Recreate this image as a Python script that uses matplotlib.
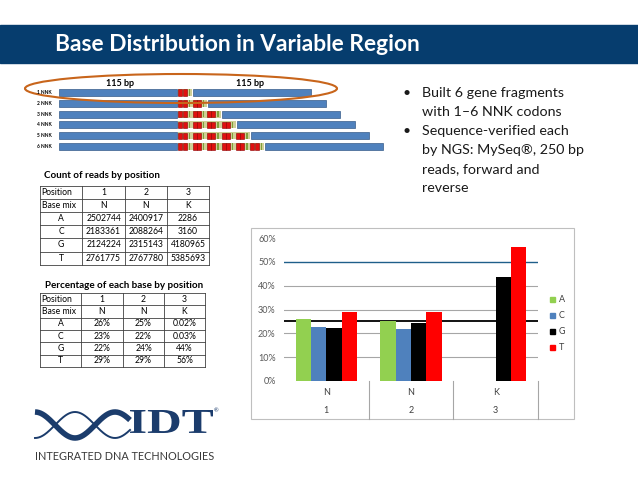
import matplotlib
matplotlib.use('agg')
import numpy as np
import matplotlib.pyplot as plt
from matplotlib.patches import Rectangle, Ellipse, PathPatch
from matplotlib.textpath import TextPath
from matplotlib.font_manager import FontProperties
from matplotlib.transforms import Affine2D

plt.rcParams['font.family'] = ['Lato', 'DejaVu Sans']

# data
bases = ['A', 'C', 'G', 'T']
positions = ['1', '2', '3']
base_mix = ['N', 'N', 'K']
counts_A = [2502744, 2400917, 2286]
counts_C = [2183361, 2088264, 3160]
counts_G = [2124224, 2315143, 4180965]
counts_T = [2761775, 2767780, 5385693]
pct_A = ['26%', '25%', '0.02%']
pct_C = ['23%', '22%', '0.03%']
pct_G = ['22%', '24%', '44%']
pct_T = ['29%', '29%', '56%']
nnk_counts = [1, 2, 3, 4, 5, 6]
bar_colors = ['#92D050', '#4F81BD', '#000000', '#FF0000']
bullet_lines = [('•', 'Built 6 gene fragments'), ('', 'with 1–6 NNK codons'),
                ('•', 'Sequence-verified each'), ('', 'by NGS: MySeq®, 250 bp'),
                ('', 'reads, forward and'), ('', 'reverse')]

fig = plt.figure(figsize=(6.38, 4.79), dpi=100)
bg = fig.add_axes([0, 0, 1, 1])
bg.set_xlim(0, 638)
bg.set_ylim(479, 0)
bg.axis('off')

# header band
bg.add_patch(Rectangle((0, 25), 638, 38, color='#063D6E'))
bg.text(55, 44, 'Base Distribution in Variable Region', color='white',
        fontsize=16.4, fontweight='bold', va='center')

# gene fragments with NNK codons
for i, n in enumerate(nnk_counts):
    y = 92.5 + i * 10.8
    bg.add_patch(Rectangle((59, y - 3.5), 118, 7, fc='#4F81BD', ec='#385D8A', lw=0.5))
    for k in range(n):
        x0 = 178 + k * 14.4
        bg.add_patch(Rectangle((x0, y - 3.5), 14.4, 7, fc='#CFCF96', lw=0))
        for dx in (0.3, 4.5):
            bg.add_patch(Rectangle((x0 + dx, y - 3.2), 4, 6.4, fc='#E01010',
                                   ec='#8B0000', lw=0.4))
        bg.add_patch(Rectangle((x0 + 10.6, y - 3.2), 1.4, 6.4, fc='#7FA03A', lw=0))
    bg.add_patch(Rectangle((178 + n * 14.4 + 1, y - 3.5), 118, 7,
                           fc='#4F81BD', ec='#385D8A', lw=0.5))
    bg.text(37, y, f'{n} NNK', fontsize=3.5, fontweight='bold', va='center')

bg.add_patch(Ellipse((181, 88.5), 312, 29, fill=False, ec='#C8651B', lw=1.5))
bg.text(120, 83, '115 bp', fontsize=6.5, fontweight='bold', ha='center', va='center')
bg.text(250, 83, '115 bp', fontsize=6.5, fontweight='bold', ha='center', va='center')


def draw_table(cols, top, rh, rows, fs):
    nrow = len(rows)
    for r in range(nrow + 1):
        bg.plot([cols[0], cols[-1]], [top + r * rh] * 2, color='#404040', lw=0.6)
    for c in cols:
        bg.plot([c, c], [top, top + nrow * rh], color='#404040', lw=0.6)
    for r, row in enumerate(rows):
        yc = top + (r + 0.5) * rh
        for c, txt in enumerate(row):
            if c == 0 and r < 2:
                bg.text(cols[0] + 1.5, yc, txt, fontsize=fs, va='center', ha='left')
            else:
                bg.text((cols[c] + cols[c + 1]) / 2, yc, txt, fontsize=fs,
                        va='center', ha='center')


rows1 = [['Position'] + positions, ['Base mix'] + base_mix]
for b, cnt in zip(bases, [counts_A, counts_C, counts_G, counts_T]):
    rows1.append([b] + [str(v) for v in cnt])
rows2 = [['Position'] + positions, ['Base mix'] + base_mix]
for b, pc in zip(bases, [pct_A, pct_C, pct_G, pct_T]):
    rows2.append([b] + pc)

bg.text(44, 175, 'Count of reads by position', fontsize=7, fontweight='bold', va='center')
draw_table([40, 82, 125, 167, 209], 186, 13.1, rows1, 6.2)
bg.text(45, 286, 'Percentage of each base by position', fontsize=7.1,
        fontweight='bold', va='center')
draw_table([40, 81, 123, 164, 205], 293, 12.3, rows2, 6.2)

# bullet text
for i, (bul, line) in enumerate(bullet_lines):
    y = 93 + i * 19
    if bul:
        bg.text(403, y, bul, fontsize=10, va='center', color='#1A1A1A')
    bg.text(422, y, line, fontsize=10.3, va='center', color='#1A1A1A')

# chart frame
bg.add_patch(Rectangle((251, 228), 323, 191, fill=False, ec='#BFBFBF', lw=0.8))

totals = np.array(counts_A) + np.array(counts_C) + np.array(counts_G) + np.array(counts_T)
shares = [np.array(c) / totals for c in [counts_A, counts_C, counts_G, counts_T]]

ax = fig.add_axes([284 / 638, (479 - 381) / 479, 254 / 638, 143 / 479])
x = np.arange(len(positions))
w = 0.181
for j, (b, s) in enumerate(zip(bases, shares)):
    ax.bar(x + (j - 1.5) * w, s, width=w, color=bar_colors[j], zorder=3)
for g in [0.1, 0.2, 0.3, 0.4]:
    ax.axhline(g, color='#A6A6A6', lw=0.8, zorder=1)
ax.axhline(0.5, color='#1F5F8A', lw=1, zorder=1)
ax.axhline(0.25, color='black', lw=1.3, zorder=2)
ax.set_xlim(-0.5, 2.5)
ax.set_ylim(0, 0.6)
ax.set_yticks(np.arange(0, 0.61, 0.1))
ax.set_yticklabels([f'{int(round(v * 100))}%' for v in np.arange(0, 0.61, 0.1)],
                   fontsize=6.5, color='#595959')
ax.tick_params(axis='y', length=0, pad=6)
ax.set_xticks([])
for s in ax.spines.values():
    s.set_visible(False)
tr = ax.get_xaxis_transform()
for i in x:
    ax.text(i, -0.077, base_mix[i], transform=tr, ha='center', va='center',
            fontsize=6.5, color='#404040')
    ax.text(i, -0.203, positions[i], transform=tr, ha='center', va='center',
            fontsize=6.5, color='#404040')
for sep in [0.5, 1.5, 2.5]:
    ax.plot([sep, sep], [0, -0.266], transform=tr, color='#A6A6A6', lw=0.8, clip_on=False)

for j, b in enumerate(bases):
    y = 299 + j * 16.3
    bg.add_patch(Rectangle((550, y - 2.5), 5, 5, color=bar_colors[j]))
    bg.text(559, y, b, fontsize=6.5, va='center', color='#404040')

# IDT logo
navy = '#1B3C6C'
xs = np.linspace(35, 130, 200)
phase = 2 * np.pi * (xs - 35) / 80
bg.plot(xs, 425 - 13 * np.cos(phase), color=navy, lw=4, solid_capstyle='butt')
bg.plot(xs, 425 + 13 * np.cos(phase), color=navy, lw=1.4)
tp = TextPath((0, 0), 'IDT', size=10, prop=FontProperties(family='Liberation Serif', weight='bold'))
ext = tp.get_extents()
sx = 83 / ext.width
sy = 23 / ext.height
tp = tp.transformed(Affine2D().translate(-ext.x0, -ext.y0).scale(sx, -sy).translate(130, 433))
bg.add_patch(PathPatch(tp, fc=navy, lw=0))
bg.text(214, 411, '®', fontsize=4, color=navy, va='center')
bg.text(35, 457, 'INTEGRATED DNA TECHNOLOGIES', fontsize=7.8, color='#3A3A3A', va='center')

fig.savefig('out.png', dpi=100)
